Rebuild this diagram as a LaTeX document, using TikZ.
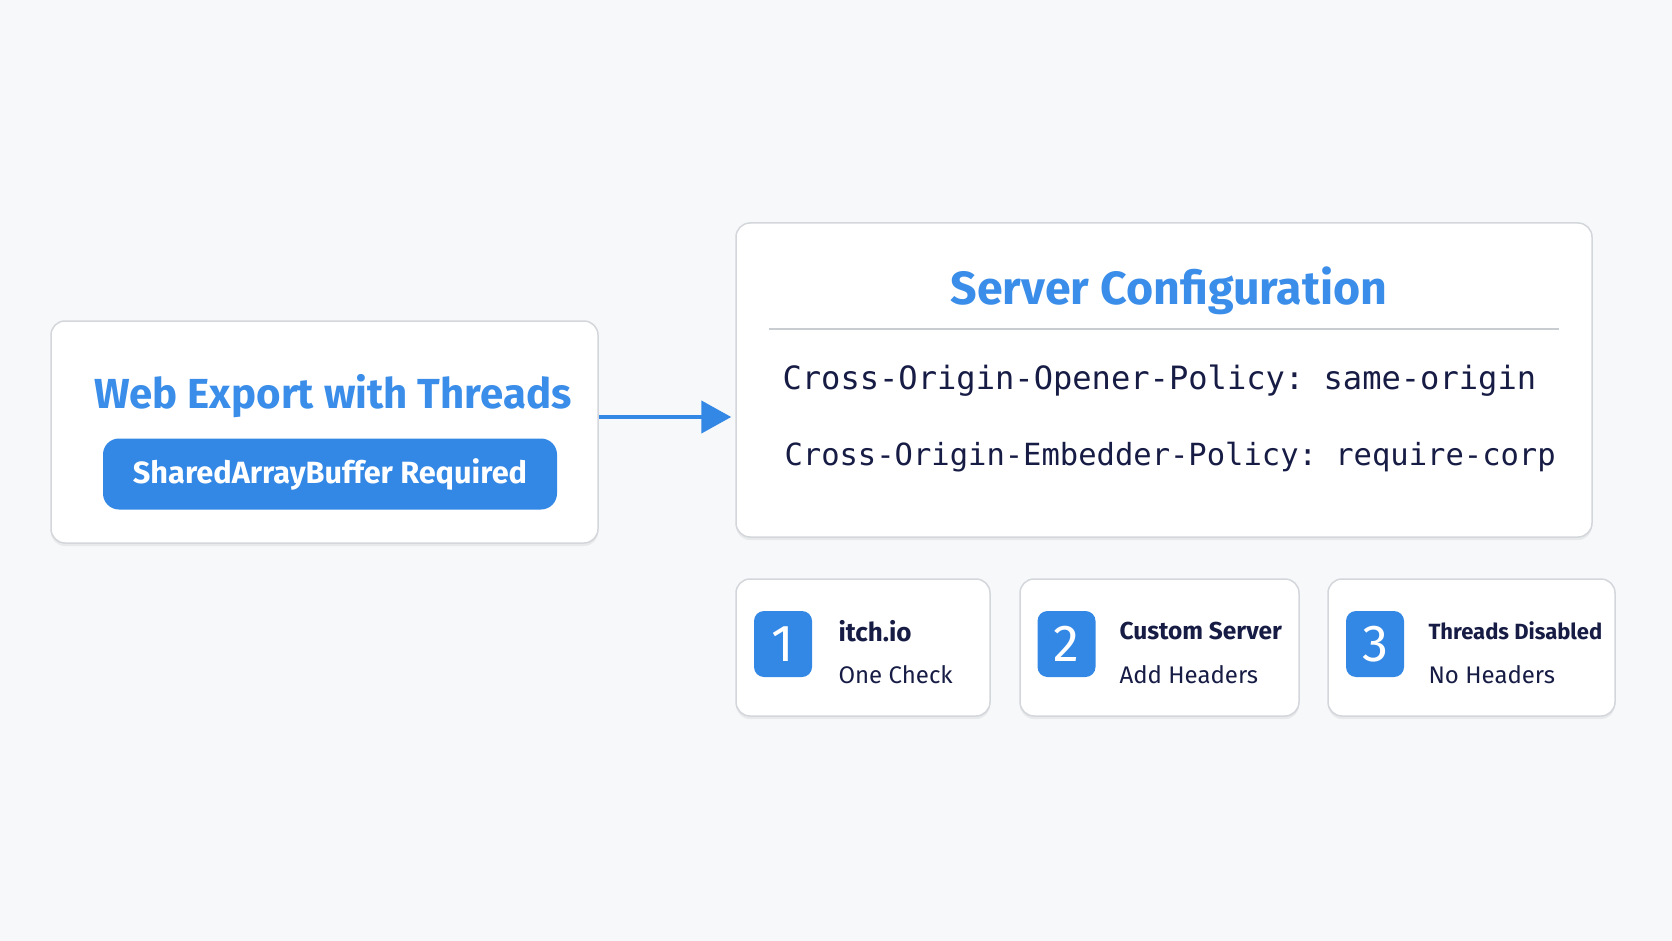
\documentclass[tikz,border=0pt]{standalone}
\usepackage{fontspec}
\setmainfont{Fira Sans}
\setmonofont{DejaVu Sans Mono}
\usetikzlibrary{arrows.meta,shadows,calc}
\definecolor{bg}{HTML}{F7F8F9}
\definecolor{accent}{HTML}{3488E5}
\definecolor{titleblue}{HTML}{3A8DE8}
\definecolor{navy}{HTML}{171C45}
\definecolor{frame}{HTML}{D3D6DB}
\definecolor{rule}{HTML}{C9CCD1}
\tikzset{
  card/.style={draw=frame, line width=1.5pt, fill=white, rounded corners=14pt,
    drop shadow={opacity=0.12, shadow xshift=0pt, shadow yshift=-3pt}},
  pill/.style={fill=accent, rounded corners=16pt, text=white},
  badge/.style={fill=accent, rounded corners=10pt, text=white, minimum width=58pt, minimum height=66pt, inner sep=0pt, font=\fontsize{52}{56}\selectfont},
  bigtitle/.style={text=titleblue, font=\bfseries},
  codeline/.style={text=navy, anchor=west},
  itemtitle/.style={text=navy, anchor=west, font=\bfseries},
  itemsub/.style={text=navy, anchor=west, font=\fontsize{24}{28}\selectfont},
  flow/.style={draw=accent, line width=4.5pt, shorten >=4pt, -{Triangle[length=30pt,width=32pt]}}
}
\begin{document}
\begin{tikzpicture}[x=1pt,y=-1pt]
\fill[bg] (0,0) rectangle (1672,941);
\useasboundingbox (0,0) rectangle (1672,941);
% left card
\node[card, minimum width=547pt, minimum height=222pt] (left) at (324.5,432) {};
\node[bigtitle] (lefttitle) at (333,396) {\fontsize{42}{48}\selectfont Web Export with Threads};
\node[pill, minimum width=454pt, minimum height=71pt, font=\fontsize{30.7}{34}\selectfont\bfseries] (pill) at (330,474) {SharedArrayBuffer Required};
% server card
\node[card, minimum width=856pt, minimum height=314pt] (srv) at (1164,380) {};
\node[bigtitle] (srvtitle) at (1169,291) {\fontsize{46.5}{52}\selectfont Server Configuration};
\coordinate (ruleL) at (769,329);
\coordinate (ruleR) at (1559,329);
\draw[rule, line width=1.5pt] (ruleL) -- (ruleR);
\node[codeline] (coop) at (779,381) {\fontsize{32.1}{36}\selectfont\ttfamily Cross-Origin-Opener-Policy: same-origin};
\node[codeline] (coep) at (781,457) {\fontsize{30.5}{36}\selectfont\ttfamily Cross-Origin-Embedder-Policy: require-corp};
% arrow
\coordinate (ay) at (600,417);
\draw[flow] (left.east |- ay) -- (srv.west |- ay);
% bottom cards
\node[card, minimum width=254pt, minimum height=137pt] (c1) at (863,647.5) {};
\node[card, minimum width=279pt, minimum height=137pt] (c2) at (1159.5,647.5) {};
\node[card, minimum width=287pt, minimum height=137pt] (c3) at (1471.5,647.5) {};
\node[badge] (b1) at (783,644) {1};
\node[badge] (b2) at (1066.5,644) {2};
\node[badge] (b3) at (1375,644) {3};
\node[itemtitle] (t1) at (835,631) {\fontsize{26}{30}\selectfont itch.io};
\node[itemsub] (s1) at (835,675) {One Check};
\node[itemtitle] (t2) at (1116,631) {\fontsize{24.5}{30}\selectfont Custom Server};
\node[itemsub] (s2) at (1116,675) {Add Headers};
\node[itemtitle] (t3) at (1425,631) {\fontsize{22}{30}\selectfont Threads Disabled};
\node[itemsub] (s3) at (1425,675) {No Headers};
\end{tikzpicture}
\end{document}
